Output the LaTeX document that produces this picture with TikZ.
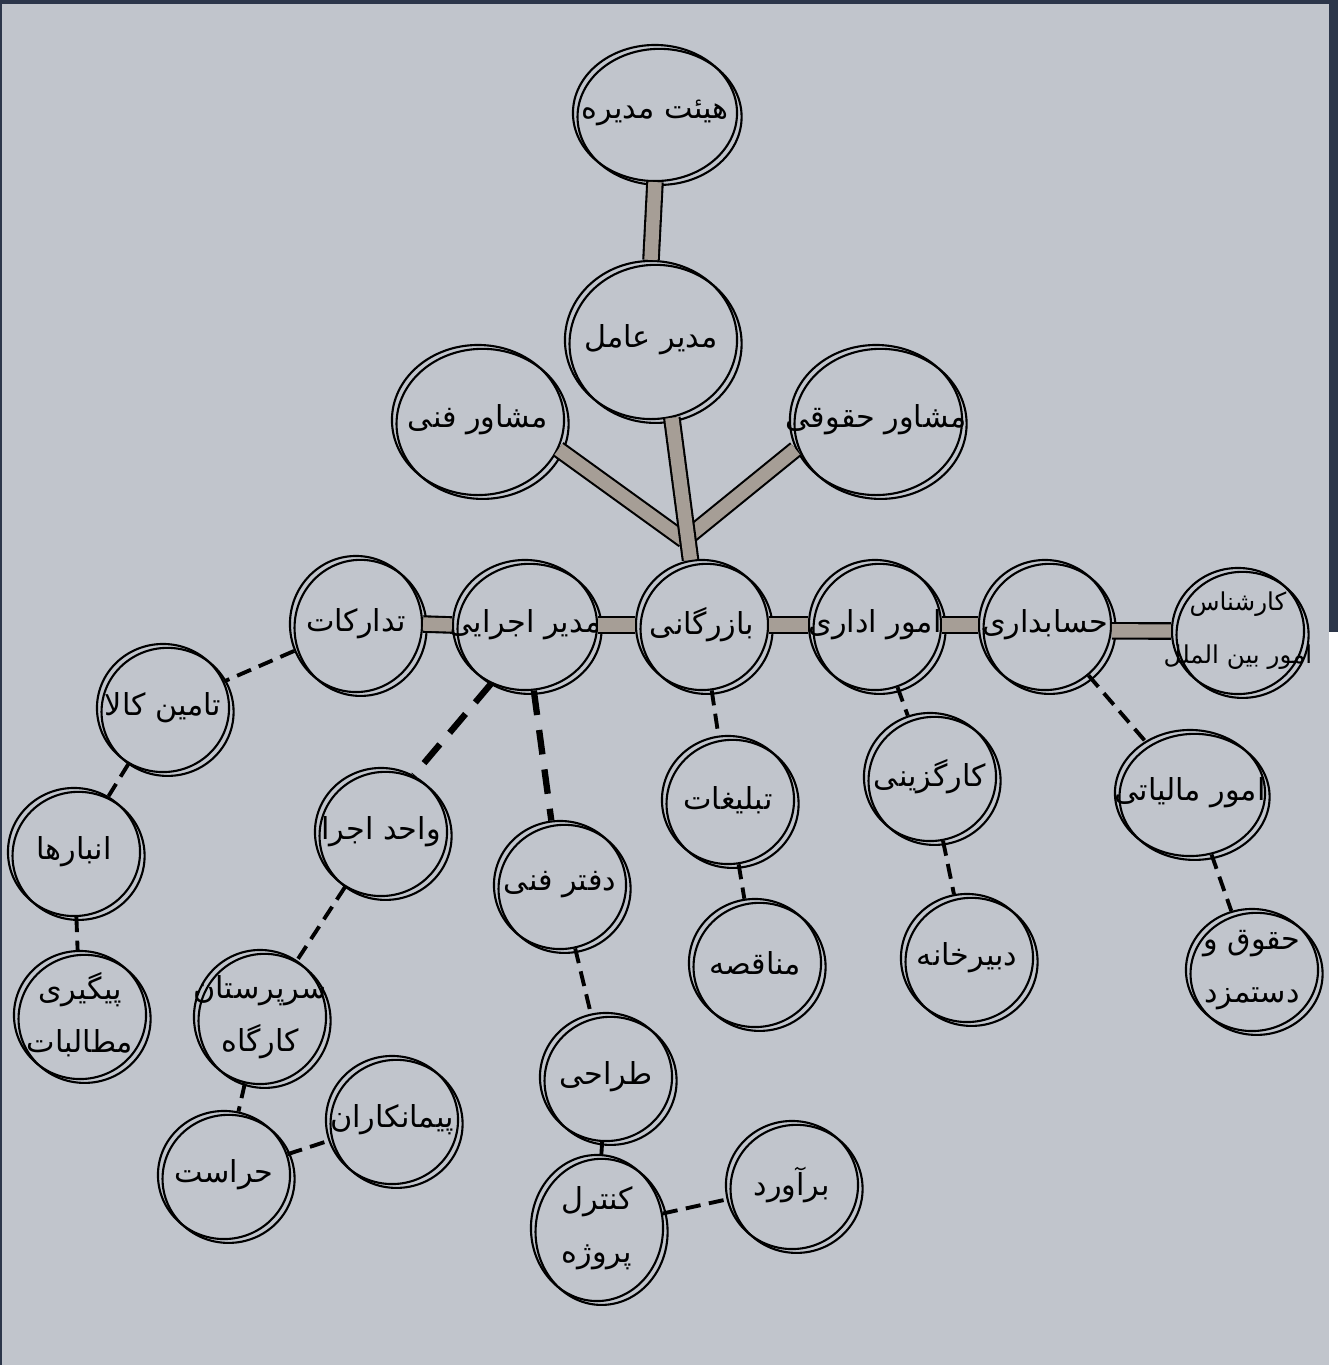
\documentclass[tikz,border=0pt]{standalone}
\usepackage{fontspec}
\newfontfamily\farsifont[Script=Arabic]{DejaVu Sans}
\TeXXeTstate=1
\usetikzlibrary{shapes.geometric}
\definecolor{paper}{RGB}{193,197,204}
\definecolor{frame}{RGB}{44,54,74}
\definecolor{barfill}{RGB}{166,158,150}
\tikzset{
  unit/.style={ellipse, draw=black, line width=0.6pt, inner xsep=-10pt, inner ysep=-3pt,
    minimum width=1.32cm, minimum height=1.28cm, align=center,
    font=\farsifont\fontsize{8.6}{15}\selectfont,
    postaction={draw, transform canvas={shift={(1.3pt,-1.1pt)}}}},
  advisor/.style={minimum width=1.72cm, minimum height=1.5cm},
  bar/.style={draw=black, line width=0.6pt, double=barfill, double distance=3.8pt},
  link/.style={draw=black, line width=1.1pt, dash pattern=on 4.3pt off 2.4pt},
  biglink/.style={draw=black, line width=1.8pt, dash pattern=on 7pt off 4.3pt}
}
\begin{document}
\begin{tikzpicture}[x=0.01cm, y=-0.01cm]
% page and frame
\useasboundingbox (0,0) rectangle (1338,1365);
\fill[paper] (0,0) rectangle (1338,1365);
\fill[frame] (0,0) rectangle (1338,4); \fill[frame] (0,0) rectangle (2,1365);
\fill[frame] (1329,0) rectangle (1338,632); \fill[white] (1329,632) rectangle (1338,1365);
% top management
\node[unit, minimum width=1.64cm, minimum height=1.36cm] (board) at (655,113) {\beginR هیئت مدیره\endR};
\node[unit, minimum width=1.72cm, minimum height=1.58cm] (ceo) at (651,340) {\beginR مدیر عامل\endR};
\node[unit, advisor] (techadv) at (478,420) {\beginR مشاور فنی\endR};
\node[unit, advisor] (legaladv) at (876,420) {\beginR مشاور حقوقی\endR};
% departments row
\node[unit, minimum height=1.36cm] (procure) at (356,624) {\beginR تدارکات\endR};
\node[unit, minimum width=1.44cm, minimum height=1.3cm] (execmgr) at (525,625) {\beginR مدیر اجرایی\endR};
\node[unit, minimum height=1.3cm] (commerce) at (702,625) {\beginR بازرگانی\endR};
\node[unit, minimum height=1.3cm] (admin) at (875,625) {\beginR امور اداری\endR};
\node[unit, minimum height=1.3cm] (account) at (1045,625) {\beginR حسابداری\endR};
\node[unit, minimum height=1.26cm, font=\farsifont\fontsize{7}{15}\selectfont] (intl) at (1238,631) {\beginR کارشناس\endR\\\beginR امور بین الملل\endR};
% procurement branch
\node[unit] (supply) at (163,708) {\beginR تامین کالا\endR};
\node[unit] (stores) at (74,852) {\beginR انبارها\endR};
\node[unit] (claims) at (80,1015) {\beginR پیگیری\endR\\\beginR مطالبات\endR};
% execution branch
\node[unit] (execunit) at (381,832) {\beginR واحد اجرا\endR};
\node[unit, minimum height=1.34cm] (siteboss) at (260,1017) {\beginR سرپرستان\endR\\\beginR کارگاه\endR};
\node[unit] (security) at (224,1175) {\beginR حراست\endR};
\node[unit] (contract) at (392,1120) {\beginR پیمانکاران\endR};
% technical office branch
\node[unit] (techoffice) at (560,885) {\beginR دفتر فنی\endR};
\node[unit] (design) at (606,1077) {\beginR طراحی\endR};
\node[unit, minimum height=1.46cm] (control) at (597,1228) {\beginR کنترل\endR\\\beginR پروژه\endR};
\node[unit] (estimate) at (792,1185) {\beginR برآورد\endR};
% commerce, admin and accounting branches
\node[unit] (advert) at (728,800) {\beginR تبلیغات\endR};
\node[unit] (tender) at (755,963) {\beginR مناقصه\endR};
\node[unit] (staffing) at (930,777) {\beginR کارگزینی\endR};
\node[unit] (secretary) at (967,958) {\beginR دبیرخانه\endR};
\node[unit, minimum width=1.5cm, minimum height=1.26cm] (tax) at (1190,793) {\beginR امور مالیاتی\endR};
\node[unit, minimum height=1.22cm] (payroll) at (1252,970) {\beginR حقوق و\endR\\\beginR دستمزد\endR};
% solid bars
\coordinate (joint) at (684,540);
\draw[bar] (techadv.-20) -- (joint);
\draw[bar] (legaladv.200) -- (joint);
\draw[bar] (board.south) -- (ceo.north);
\draw[bar] (ceo.-75) -- (commerce.100);
\draw[bar] (procure.east) -- (execmgr.west);
\draw[bar] (execmgr.east) -- (commerce.west);
\draw[bar] (commerce.east) -- (admin.west);
\draw[bar] (admin.east) -- (account.west);
\draw[bar] (account.-5) -- (intl.west);
% dashed links
\draw[biglink] (execmgr.240) -- (execunit.60);
\draw[biglink] (execmgr) -- (techoffice);
\draw[link] (procure) -- (supply);
\draw[link] (supply) -- (stores);
\draw[link] (stores) -- (claims);
\draw[link] (execunit) -- (siteboss);
\draw[link] (siteboss) -- (security);
\draw[link] (security) -- (contract);
\draw[link] (techoffice) -- (design);
\draw[link] (design) -- (control);
\draw[link] (control) -- (estimate);
\draw[link] (commerce) -- (advert);
\draw[link] (advert) -- (tender);
\draw[link] (admin) -- (staffing);
\draw[link] (staffing) -- (secretary);
\draw[link] (account) -- (tax);
\draw[link] (tax) -- (payroll);
\end{tikzpicture}
\end{document}
